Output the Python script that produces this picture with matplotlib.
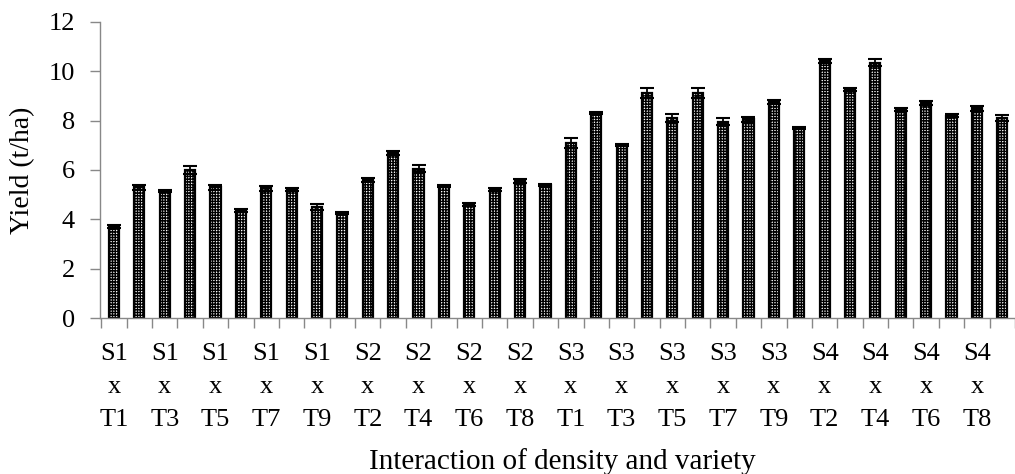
import matplotlib
matplotlib.use("Agg")
import matplotlib.pyplot as plt
import numpy as np

plt.rcParams['font.family'] = ['Liberation Serif', 'DejaVu Serif']
plt.rcParams['hatch.linewidth'] = 1.0

densities = ["S1", "S2", "S3", "S4"]
varieties = ["T1", "T2", "T3", "T4", "T5", "T6", "T7", "T8", "T9"]
categories = [f"{s}\nx\n{t}" for s in densities for t in varieties]

yield_values = [3.7, 5.3, 5.15, 6.0, 5.3, 4.35, 5.25, 5.2, 4.5,
                4.25, 5.6, 6.7, 6.05, 5.35, 4.6, 5.2, 5.55, 5.4,
                7.1, 8.3, 7.0, 9.1, 8.1, 9.1, 7.95, 8.05, 8.75,
                7.7, 10.4, 9.25, 10.35, 8.45, 8.7, 8.2, 8.5, 8.1]
errors = [0.05, 0.1, 0.05, 0.15, 0.1, 0.05, 0.1, 0.05, 0.12,
          0.05, 0.08, 0.08, 0.15, 0.05, 0.08, 0.05, 0.08, 0.05,
          0.2, 0.05, 0.05, 0.2, 0.15, 0.2, 0.15, 0.1, 0.08,
          0.05, 0.08, 0.05, 0.15, 0.05, 0.08, 0.05, 0.1, 0.12]

x = np.arange(len(categories))

fig = plt.figure(figsize=(10.15, 4.74), dpi=100)
ax = fig.add_axes([0.0985, 0.329, 0.9015, 0.625])

ax.bar(x, yield_values, width=0.4, color='white', edgecolor='black', linewidth=1.6,
       hatch='++++++', zorder=2)
ax.errorbar(x, yield_values, yerr=errors, fmt='none', ecolor='black', elinewidth=1.3,
            capsize=5, capthick=1.5, zorder=4)

ax.set_xlim(-0.55, 35.17)
ax.set_ylim(0, 12)
ax.set_yticks(np.arange(0, 13, 2))
ax.set_xticks(x[::2])
ax.set_xticklabels(categories[::2], linespacing=1.65)
ax.set_xticks(np.arange(-0.5, 36, 1), minor=True)
ax.tick_params(axis='x', which='major', length=0, pad=18, labelsize=19)
ax.tick_params(axis='x', which='minor', length=7, color='#888888', width=1)
ax.tick_params(axis='y', length=7, color='#888888', width=1, labelsize=19, pad=11)

for s in ['top', 'right']:
    ax.spines[s].set_visible(False)
for s in ['left', 'bottom']:
    ax.spines[s].set_color('#888888')
    ax.spines[s].set_linewidth(1)

ax.set_ylabel("Yield (t/ha)", fontsize=20)
ax.yaxis.set_label_coords(-0.071, 0.5)
ax.set_xlabel("Interaction of density and variety", fontsize=21)
ax.xaxis.set_label_coords(0.505, -0.44)

fig.savefig("out.png", dpi=100)
